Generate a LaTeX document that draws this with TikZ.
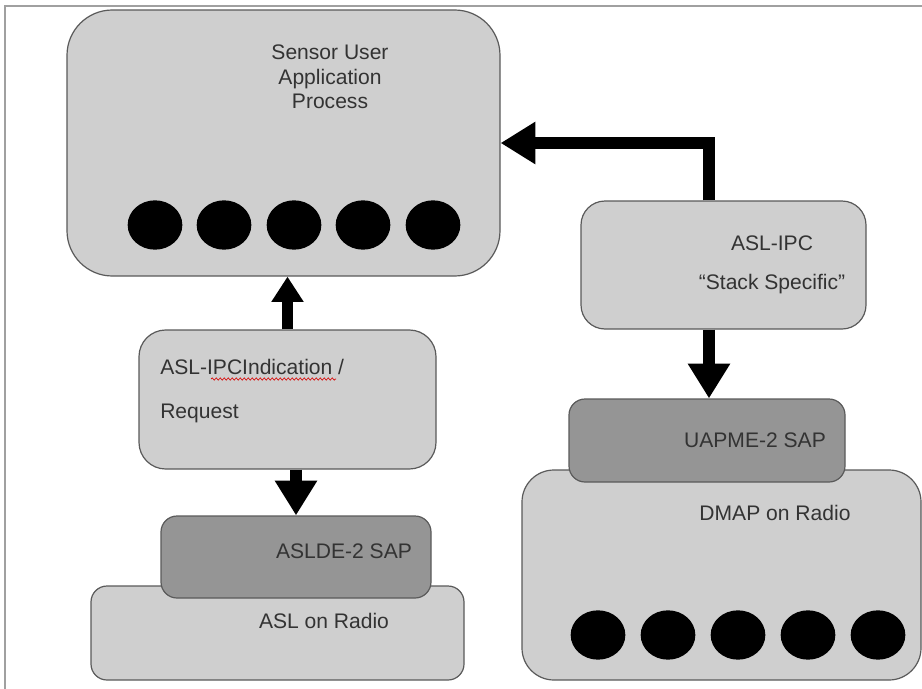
\documentclass[tikz,border=0pt]{standalone}
\usepackage{fontspec}
\setmainfont{Liberation Sans}
\usetikzlibrary{fit,arrows.meta,decorations.pathmorphing,shapes.geometric}
\definecolor{lightg}{HTML}{CFCFCF}
\definecolor{darkg}{HTML}{959595}
\definecolor{edgeg}{HTML}{5A5A5A}
\definecolor{txtg}{HTML}{333333}
\definecolor{frameg}{HTML}{A0A0A0}
\begin{document}
\begin{tikzpicture}[x=0.75pt,y=-0.75pt,
  boxl/.style={draw=edgeg, fill=lightg, line width=0.9pt, inner sep=0pt, rectangle},
  boxd/.style={draw=edgeg, fill=darkg, line width=0.9pt, inner sep=0pt, rectangle},
  dot/.style={ellipse, fill=black, draw=none, minimum width=41pt, minimum height=37pt, inner sep=0pt},
  lbl/.style={text=txtg, font=\fontsize{15.8}{18.4}\selectfont, inner sep=0pt, align=center},
  bigarrow/.style={line width=8.5pt, -{Triangle[width=30pt,length=26pt]}},
  smallarrow/.style={line width=8.5pt, -{Triangle[width=23pt,length=19pt]}}
]
\useasboundingbox (0,0) rectangle (922,689);
\fill[white] (0,0) rectangle (922,689);
\draw[frameg, line width=1.4pt] (5,689) -- (5,6) -- (922,6);

% boxes
\node[boxl, rounded corners=34pt, fit={(67,10) (500,276)}] (sensor) {};
\node[boxl, rounded corners=18pt, fit={(581,201) (866,329)}] (aslipc) {};
\node[boxl, rounded corners=20pt, fit={(139,330) (436,469)}] (ipc) {};
\node[boxl, rounded corners=12pt, fit={(91,586) (464,680)}] (aslradio) {};
\node[boxd, rounded corners=12pt, fit={(161,516) (431,598)}] (aslde) {};
\node[boxl, rounded corners=24pt, fit={(522,470) (921,680)}] (dmap) {};
\node[boxd, rounded corners=12pt, fit={(569,399) (845,482)}] (uapme) {};

% texts
\node[lbl] (tsensor) at (330,77) {Sensor User\\Application\\Process};
\node[lbl] (taslipc1) at (772,243) {ASL-IPC};
\node[lbl] (taslipc2) at (772,284) {“Stack Specific”};
\node[lbl, anchor=west] (tipc1) at (160,367) {ASL-IPCIndication /};
\node[lbl, anchor=west] (tipc2) at (160,413) {Request};
\node[lbl] (tuapme) at (755,440) {UAPME-2 SAP};
\node[lbl] (tdmap) at (775,513) {DMAP on Radio};
\node[lbl] (taslde) at (344,551) {ASLDE-2 SAP};
\node[lbl] (taslradio) at (324,621) {ASL on Radio};
\draw[red!85!black, line width=0.5pt, decorate, decoration={snake, amplitude=0.8pt, segment length=3pt}] (211,379) -- (336,379);

% dots
\foreach \i/\x in {1/155,2/224,3/294,4/363,5/433}
  \node[dot] (s\i) at (\x,225) {};
\foreach \i/\x in {1/598,2/668,3/738,4/808,5/878}
  \node[dot] (d\i) at (\x,635) {};

% connectors
\coordinate (kx) at (709,0);
\draw[bigarrow] (aslipc.north -| kx) |- (sensor.east);
\draw[bigarrow] (aslipc.south -| kx) -- (uapme.north -| kx);
\draw[smallarrow] (ipc.north) -- (sensor.south -| ipc.north);
\draw[bigarrow] (ipc.south -| aslde.north) -- (aslde.north);
\end{tikzpicture}
\end{document}
